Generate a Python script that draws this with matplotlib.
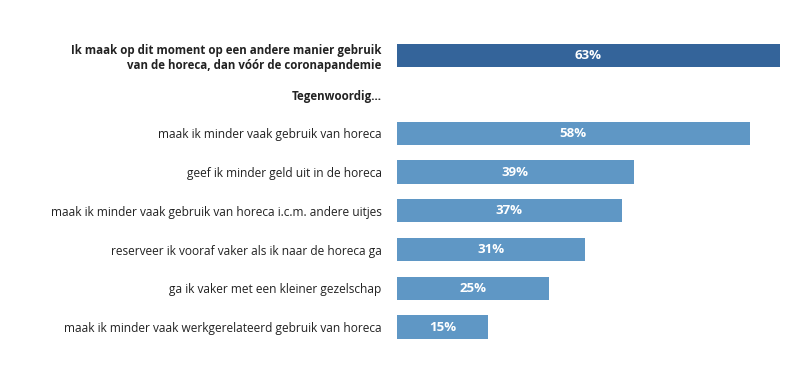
import matplotlib.pyplot as plt

plt.rcParams['font.family'] = ['Open Sans', 'DejaVu Sans']

labels = [
    'Ik maak op dit moment op een andere manier gebruik\nvan de horeca, dan vóór de coronapandemie',
    'Tegenwoordig...',
    'maak ik minder vaak gebruik van horeca',
    'geef ik minder geld uit in de horeca',
    'maak ik minder vaak gebruik van horeca i.c.m. andere uitjes',
    'reserveer ik vooraf vaker als ik naar de horeca ga',
    'ga ik vaker met een kleiner gezelschap',
    'maak ik minder vaak werkgerelateerd gebruik van horeca',
]
values = [63, None, 58, 39, 37, 31, 25, 15]
bold_rows = [0, 1]

dark_blue = '#34649a'
light_blue = '#5f97c5'

fig = plt.figure(figsize=(8, 3.79), dpi=100)
ax = fig.add_axes([0.496, 0.086, 0.479, 0.818])

for i, v in enumerate(values):
    if v is None:
        continue
    color = dark_blue if i == 0 else light_blue
    ax.barh(i, v, height=0.6, color=color)
    ax.text(v / 2, i, f'{v}%', ha='center', va='center', color='white',
            fontsize=9.5, fontweight='bold')

ax.set_xlim(0, 63)
ax.set_ylim(len(labels) - 0.5, -0.5)
ax.set_yticks(range(len(labels)))
ax.set_yticklabels(labels, fontsize=8.6, color='#222222')
for i, t in enumerate(ax.get_yticklabels()):
    t.set_ha('right')
    if i in bold_rows:
        t.set_fontweight('bold')
        t.set_fontsize(8.3)
        t.set_multialignment('right')
ax.tick_params(axis='y', length=0, pad=11)
ax.set_xticks([])
for s in ax.spines.values():
    s.set_visible(False)

fig.savefig('out.png', dpi=100)
